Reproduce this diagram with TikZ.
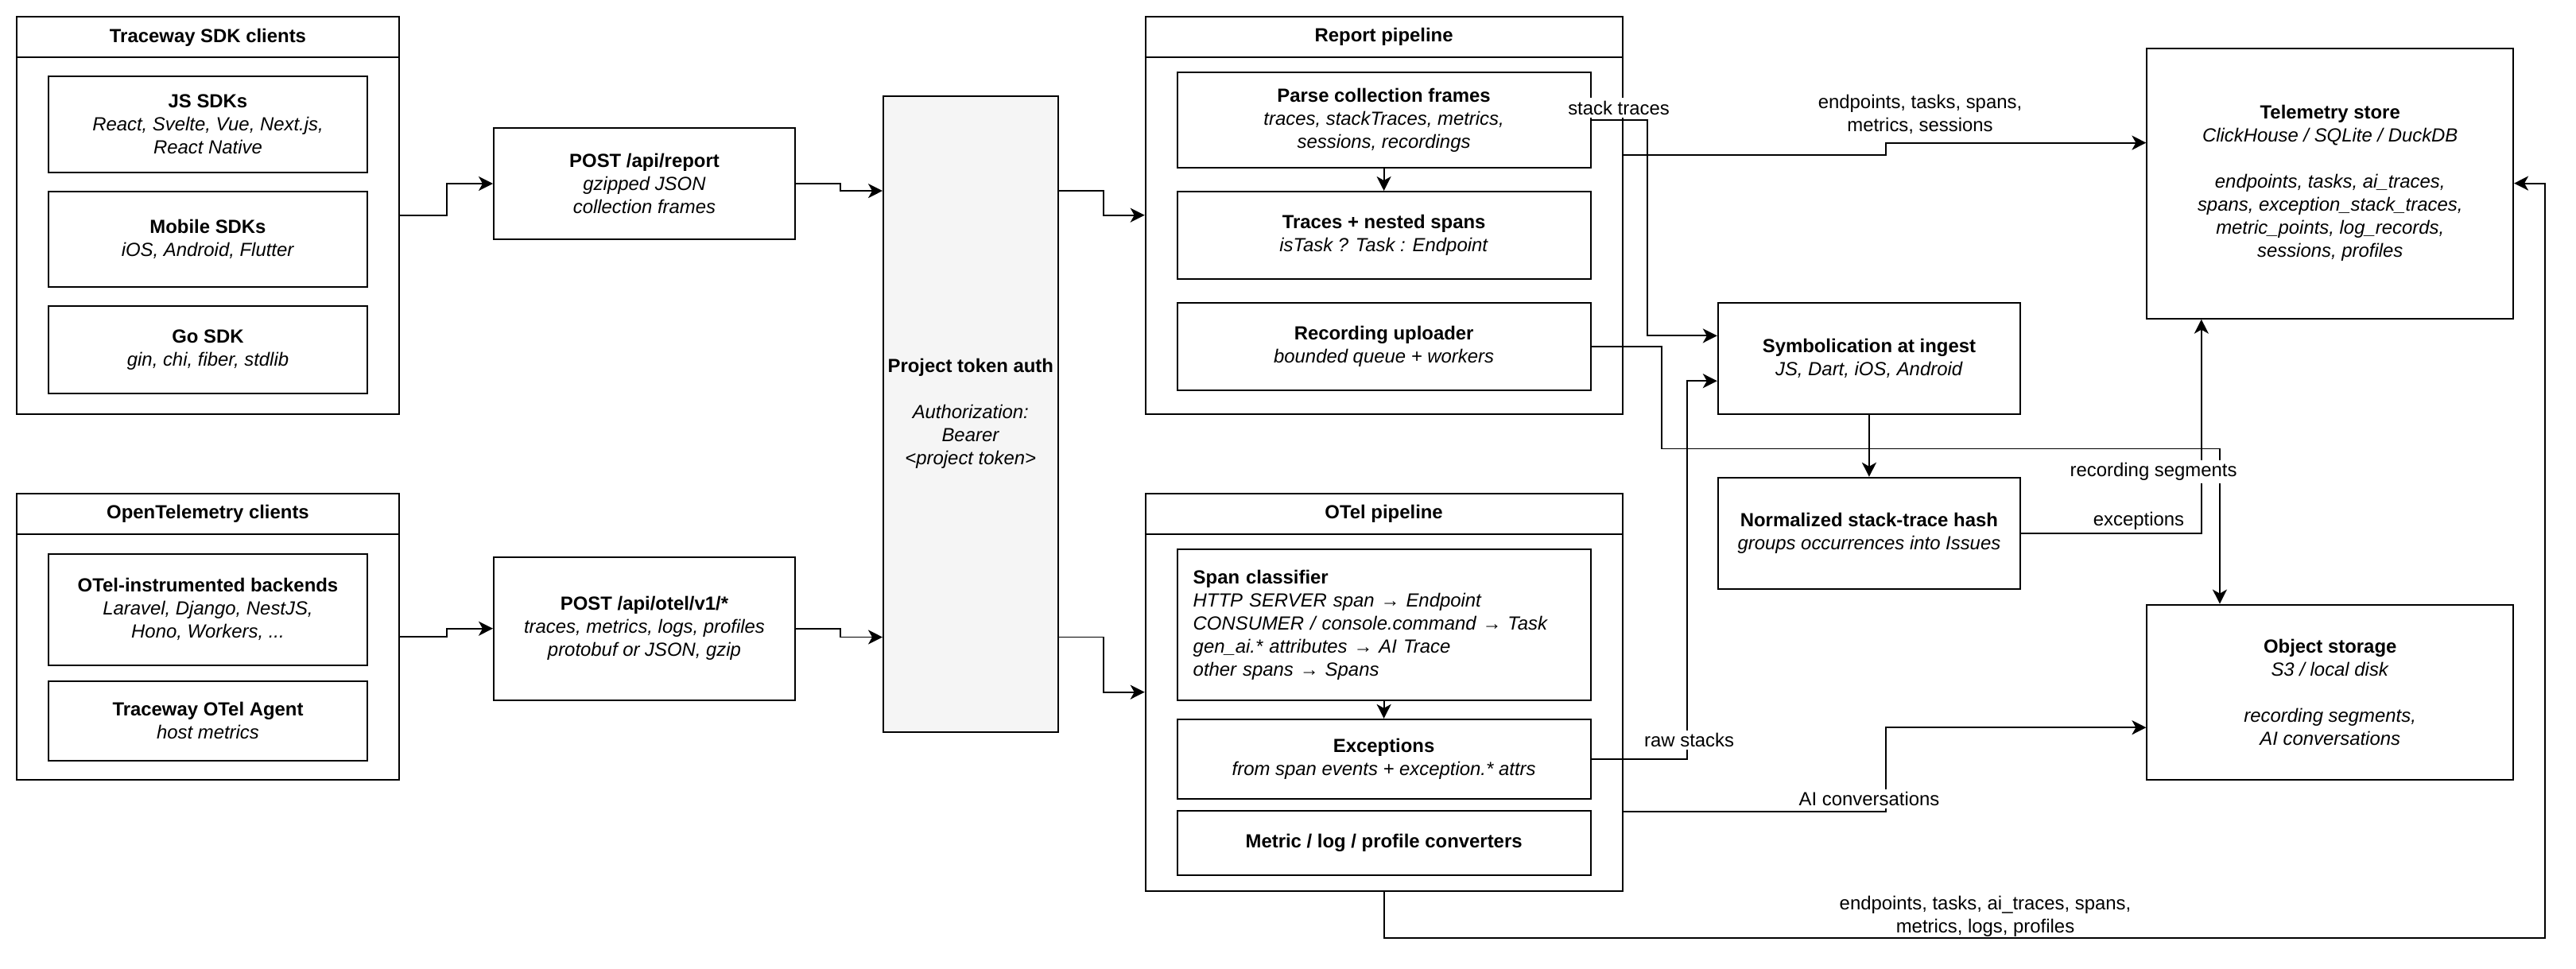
\documentclass[tikz,border=0pt]{standalone}
\usepackage{fontspec}
\setmainfont{Liberation Sans}
\usetikzlibrary{arrows.meta,calc}
\definecolor{authgray}{HTML}{F5F5F5}

\begin{document}
\begin{tikzpicture}[x=1cm,y=-1cm,
  font=\fontsize{6.8}{8.25}\selectfont,
  box/.style={draw,line width=0.57pt,align=center,inner sep=0pt},
  lane/.style={draw,line width=0.57pt},
  flow/.style={line width=0.55pt,-{Stealth[length=0.18cm,width=0.18cm,inset=0.05cm]}},
  tag/.style={fill=white,inner sep=1pt,align=center},
  note/.style={inner sep=1pt,align=center}]
\useasboundingbox (0,0) rectangle (32.4,12.18);

\node[lane,minimum width=4.81cm,minimum height=5cm] (sdk) at (2.615,2.71) {};
\node (sdktitle) at (2.615,0.47) {\textbf{Traceway SDK clients}};
\draw[lane] ($(sdk.north west)+(0,0.52)$) -- ($(sdk.north east)+(0,0.52)$);
\node[box,minimum width=4.01cm,minimum height=1.21cm] (js) at (2.615,1.565) {\textbf{JS SDKs}\\\textit{React, Svelte, Vue, Next.js,}\\\textit{React Native}};
\node[box,minimum width=4.01cm,minimum height=1.2cm] (mobile) at (2.615,3.01) {\textbf{Mobile SDKs}\\\textit{iOS, Android, Flutter}};
\node[box,minimum width=4.01cm,minimum height=1.1cm] (gosdk) at (2.615,4.4) {\textbf{Go SDK}\\\textit{gin, chi, fiber, stdlib}};

\node[lane,minimum width=4.81cm,minimum height=3.6cm] (otelc) at (2.615,8.007) {};
\node (otelctitle) at (2.615,6.467) {\textbf{OpenTelemetry clients}};
\draw[lane] ($(otelc.north west)+(0,0.52)$) -- ($(otelc.north east)+(0,0.52)$);
\node[box,minimum width=4.01cm,minimum height=1.403cm] (backends) at (2.615,7.668) {\textbf{OTel-instrumented backends}\\\textit{Laravel, Django, NestJS,}\\\textit{Hono, Workers, ...}};
\node[box,minimum width=4.01cm,minimum height=1cm] (agent) at (2.615,9.067) {\textbf{Traceway OTel Agent}\\\textit{host metrics}};

\node[box,minimum width=3.79cm,minimum height=1.4cm] (postrep) at (8.105,2.31) {\textbf{POST /api/report}\\\textit{gzipped JSON}\\\textit{collection frames}};
\node[box,minimum width=3.79cm,minimum height=1.8cm] (postotel) at (8.105,7.907) {\textbf{POST /api/otel/v1/*}\\\textit{traces, metrics, logs, profiles}\\\textit{protobuf or JSON, gzip}};

\node[box,fill=authgray,minimum width=2.196cm,minimum height=8cm] (auth) at (12.208,5.208) {\textbf{Project token auth}\\[8.25pt]\textit{Authorization:}\\\textit{Bearer}\\\textit{<project token>}};

\node[lane,minimum width=5.998cm,minimum height=5cm] (reppipe) at (17.406,2.707) {};
\node (reppipetitle) at (17.406,0.467) {\textbf{Report pipeline}};
\draw[lane] ($(reppipe.north west)+(0,0.52)$) -- ($(reppipe.north east)+(0,0.52)$);
\node[box,minimum width=5.198cm,minimum height=1.203cm] (parse) at (17.406,1.5085) {\textbf{Parse collection frames}\\\textit{traces, stackTraces, metrics,}\\\textit{sessions, recordings}};
\node[box,minimum width=5.198cm,minimum height=1.1cm] (traces) at (17.406,2.96) {\textbf{Traces + nested spans}\\\textit{isTask ? Task : Endpoint}};
\node[box,minimum width=5.198cm,minimum height=1.103cm] (recup) at (17.406,4.3585) {\textbf{Recording uploader}\\\textit{bounded queue + workers}};

\node[lane,minimum width=5.998cm,minimum height=5cm] (otelpipe) at (17.406,8.707) {};
\node (otelpipetitle) at (17.406,6.467) {\textbf{OTel pipeline}};
\draw[lane] ($(otelpipe.north west)+(0,0.52)$) -- ($(otelpipe.north east)+(0,0.52)$);
\node[box,minimum width=5.198cm,minimum height=1.9cm,text width=4.798cm,inner xsep=0.2cm,align=left] (classifier) at (17.406,7.86) {\textbf{Span classifier}\\\textit{HTTP SERVER span → Endpoint}\\\textit{CONSUMER / console.command → Task}\\\textit{gen\_ai.* attributes → AI Trace}\\\textit{other spans → Spans}};
\node[box,minimum width=5.198cm,minimum height=1cm] (exc) at (17.406,9.549) {\textbf{Exceptions}\\\textit{from span events + exception.* attrs}};
\node[box,minimum width=5.198cm,minimum height=0.81cm] (conv) at (17.406,10.608) {\textbf{Metric / log / profile converters}};

\node[box,minimum width=3.802cm,minimum height=1.4cm] (symb) at (23.509,4.508) {\textbf{Symbolication at ingest}\\\textit{JS, Dart, iOS, Android}};
\node[box,minimum width=3.802cm,minimum height=1.4cm] (hash) at (23.509,6.708) {\textbf{Normalized stack-trace hash}\\\textit{groups occurrences into Issues}};
\node[box,minimum width=4.606cm,minimum height=3.402cm] (store) at (29.307,2.306) {\textbf{Telemetry store}\\\textit{ClickHouse / SQLite / DuckDB}\\[8.25pt]\textit{endpoints, tasks, ai\_traces,}\\\textit{spans, exception\_stack\_traces,}\\\textit{metric\_points, log\_records,}\\\textit{sessions, profiles}};
\node[box,minimum width=4.606cm,minimum height=2.203cm] (objst) at (29.307,8.7075) {\textbf{Object storage}\\\textit{S3 / local disk}\\[8.25pt]\textit{recording segments,}\\\textit{AI conversations}};

\coordinate (authin1) at ($(auth.north west)!0.15!(auth.south west)$);
\coordinate (authin2) at ($(auth.north west)!0.85!(auth.south west)$);
\coordinate (authout1) at ($(auth.north east)!0.15!(auth.south east)$);
\coordinate (authout2) at ($(auth.north east)!0.85!(auth.south east)$);
\coordinate (symbin1) at ($(symb.north west)!0.3!(symb.south west)$);
\coordinate (symbin2) at ($(symb.north west)!0.7!(symb.south west)$);
\coordinate (repout) at ($(reppipe.north east)!0.35!(reppipe.south east)$);
\coordinate (otelout) at ($(otelpipe.north east)!0.8!(otelpipe.south east)$);
\coordinate (storein1) at ($(store.north west)!0.351!(store.south west)$);
\coordinate (storein2) at ($(store.south west)!0.15!(store.south east)$);
\coordinate (objin1) at ($(objst.north west)!0.2!(objst.north east)$);
\coordinate (objin2) at ($(objst.north west)!0.7!(objst.south west)$);

\draw[flow] (sdk.east) -- ++(0.59,0) |- (postrep.west);
\draw[flow] (otelc.east) -- ++(0.59,0) |- (postotel.west);
\draw[flow] (postrep.east) -- ++(0.56,0) |- (authin1);
\draw[flow] (postotel.east) -- ++(0.56,0) |- (authin2);
\draw[flow] (authout1) -- ++(0.56,0) |- (reppipe.west);
\draw[flow] (authout2) -- ++(0.56,0) |- (otelpipe.west);
\draw[flow] (parse) -- (traces);
\draw[flow] (classifier) -- (exc);
\draw[flow] (symb) -- (hash);
\draw[flow] (parse.east) -- ++(0.702,0) |- (symbin1);
\draw[flow] (repout) -- ++(3.305,0) |- (storein1);
\draw[flow] (recup.east) -| (20.9,5.645) -| (objin1);
\draw[flow] (hash.east) -| (storein2);
\draw[flow] (exc.east) -- ++(1.201,0) |- (symbin2);
\draw[flow] (otelout) -- ++(3.305,0) |- (objin2);
\draw[flow] (otelpipe.south) |- (32.01,11.8) |- (store.east);

\node[tag] (stacklbl) at (20.36,1.357) {stack traces};
\node[note] (storelbl) at (24.15,1.435) {endpoints, tasks, spans,\\metrics, sessions};
\node[tag] (reclbl) at (27.086,5.936) {recording segments};
\node[tag] (exclbl) at (26.9,6.557) {exceptions};
\node[tag] (rawlbl) at (21.246,9.31) {raw stacks};
\node[tag] (ailbl) at (23.51,10.048) {AI conversations};
\node[note] (looplbl) at (24.97,11.527) {endpoints, tasks, ai\_traces, spans,\\metrics, logs, profiles};
\end{tikzpicture}
\end{document}
